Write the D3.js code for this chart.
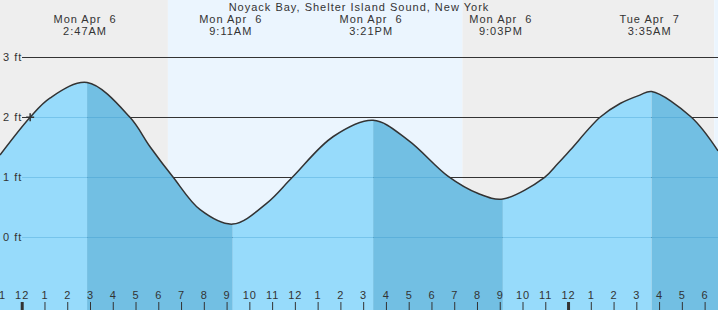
<!DOCTYPE html>
<html><head><meta charset="utf-8">
<script src="https://cdn.jsdelivr.net/npm/d3@7"></script>
<style>
html,body{margin:0;padding:0;background:#fff}
svg{display:block}
text{font-family:"Liberation Sans",Arial,sans-serif;font-size:11px;fill:#333;letter-spacing:1px;white-space:pre}
</style>
</head><body><svg id="c" width="718" height="310"></svg>
<script>
// ---------------- data ----------------
const title = "Noyack Bay, Shelter Island Sound, New York";
const chartStart = "2026-04-05T22:57:30";
const chartEnd = "2026-04-07T06:30:00";

const extremeTimes = ["2026-04-06T02:47:00","2026-04-06T09:11:00","2026-04-06T15:21:00","2026-04-06T21:03:00","2026-04-07T03:35:00"];
const extremeTypes = ["H","L","H","L","H"];
const extremeDayLabels = ["Mon Apr  6","Mon Apr  6","Mon Apr  6","Mon Apr  6","Tue Apr  7"];
const extremeTimeLabels = ["2:47AM","9:11AM","3:21PM","9:03PM","3:35AM"];

const curveTimes = [
  "2026-04-05T22:57:30","2026-04-06T00:17:00","2026-04-06T01:09:00","2026-04-06T02:47:00",
  "2026-04-06T04:40:00","2026-04-06T05:33:00","2026-04-06T06:34:00","2026-04-06T07:45:00",
  "2026-04-06T09:11:00","2026-04-06T10:41:00","2026-04-06T11:48:00","2026-04-06T13:36:00",
  "2026-04-06T15:21:00","2026-04-06T16:53:00","2026-04-06T18:38:00",
  "2026-04-06T19:58:00","2026-04-06T21:03:00","2026-04-06T22:53:00","2026-04-06T23:28:00",
  "2026-04-07T00:00:00","2026-04-07T01:19:00","2026-04-07T02:12:00","2026-04-07T03:04:00",
  "2026-04-07T03:35:00","2026-04-07T05:20:00","2026-04-07T06:30:00"];
const curveLevels = [
  1.37, 2.00, 2.32, 2.58,
  2.00, 1.51, 1.00, 0.46,
  0.22, 0.57, 1.00, 1.68,
  1.95, 1.62, 1.02,
  0.73, 0.64, 1.00, 1.23,
  1.45, 2.00, 2.23, 2.37,
  2.43, 2.00, 1.44];

const nightStarts = ["2026-04-05T22:57:30","2026-04-06T19:16:00"];
const nightEnds   = ["2026-04-06T06:20:00","2026-04-07T06:20:00"];
const dayStarts = ["2026-04-06T06:20:00","2026-04-07T06:20:00"];
const dayEnds   = ["2026-04-06T19:16:00","2026-04-07T06:30:00"];

const yTickValues = [0,1,2,3];
const yTickLabels = ["0 ft","1 ft","2 ft","3 ft"];

const nowTime = "2026-04-06T00:17:00";
const nowLevel = 2.0;

// ---------------- drawing ----------------
const W = 718, H = 310;
const parse = d3.utcParse("%Y-%m-%dT%H:%M:%S");
const svg = d3.select("#c");

const x = d3.scaleUtc().domain([parse(chartStart), parse(chartEnd)]).range([0, W]);
const y = d3.scaleLinear().domain([0, 3]).range([237.3, 57.3]);
const labelShift = -2;

// background: night / day
svg.append("g").selectAll("rect").data(nightStarts.map((s,i)=>[parse(s),parse(nightEnds[i])]))
  .join("rect").attr("x",d=>x(d[0])).attr("width",d=>x(d[1])-x(d[0])).attr("y",0).attr("height",H).attr("fill","#eeeeee");
svg.append("g").selectAll("rect").data(dayStarts.map((s,i)=>[parse(s),parse(dayEnds[i])]))
  .join("rect").attr("x",d=>x(d[0])).attr("width",d=>x(d[1])-x(d[0])).attr("y",0).attr("height",H).attr("fill","#ebf5fe");

// dark grid lines
svg.append("g").selectAll("line").data(yTickValues).join("line")
  .attr("x1",22).attr("x2",W).attr("y1",d=>Math.round(y(d))+0.5).attr("y2",d=>Math.round(y(d))+0.5)
  .attr("stroke","#333").attr("stroke-width",1);

// curve data
const pts = curveTimes.map((t,i)=>({t:parse(t), v:curveLevels[i]}));
const crv = d3.curveCatmullRom.alpha(0.5);
const area = d3.area().x(d=>x(d.t)).y0(H).y1(d=>y(d.v)).curve(crv);
const line = d3.line().x(d=>x(d.t)).y(d=>y(d.v)).curve(crv);

// segments between extremes: rising (light) / falling (dark)
const bounds = [parse(chartStart), ...extremeTimes.map(parse), parse(chartEnd)];
const segs = [];
for (let i=0;i<bounds.length-1;i++){
  const falling = i>0 && extremeTypes[i-1]==="H";
  segs.push({a:bounds[i], b:bounds[i+1], falling});
}
const defs = svg.append("defs");
segs.forEach((s,i)=>{
  defs.append("clipPath").attr("id","seg"+i).append("rect")
    .attr("x",x(s.a)).attr("width",x(s.b)-x(s.a)).attr("y",0).attr("height",H);
});
defs.append("clipPath").attr("id","water").append("path").attr("d",area(pts));

svg.append("g").selectAll("path").data(segs).join("path")
  .attr("d",area(pts)).attr("clip-path",(d,i)=>`url(#seg${i})`)
  .attr("fill",d=>d.falling?"#72bfe3":"#97dbfb");

// grid lines under water
svg.append("g").attr("clip-path","url(#water)").selectAll("line").data(yTickValues).join("line")
  .attr("x1",22).attr("x2",W).attr("y1",d=>Math.round(y(d))+0.5).attr("y2",d=>Math.round(y(d))+0.5)
  .attr("stroke","#2a8fc7").attr("stroke-opacity",0.3).attr("stroke-width",1);

// tide line
svg.append("path").attr("d",line(pts)).attr("fill","none").attr("stroke","#333").attr("stroke-width",1.5);

// y labels
svg.append("g").selectAll("text").data(yTickValues).join("text")
  .attr("x",3).attr("y",d=>y(d)+4).text((d,i)=>yTickLabels[i]);

// current time marker
const cx = x(parse(nowTime)), cy = y(nowLevel);
svg.append("path").attr("d",`M${cx-4},${cy}H${cx+4}M${cx},${cy-4}V${cy+4}`)
  .attr("stroke","#333").attr("stroke-width",1.5).attr("fill","none");

// title
svg.append("text").attr("x",359).attr("y",11).attr("text-anchor","middle").text(title);

// extreme labels
const lab = svg.append("g").attr("transform",`translate(${labelShift},0)`);
extremeTimes.forEach((t,i)=>{
  const xx = x(parse(t));
  lab.append("text").attr("x",xx).attr("y",23).attr("text-anchor","middle").text(extremeDayLabels[i]);
  lab.append("text").attr("x",xx).attr("y",35).attr("text-anchor","middle").text(extremeTimeLabels[i]);
});

// x axis (hour ticks)
const axis = d3.axisBottom(x).ticks(d3.utcHour.every(1)).tickFormat(d3.utcFormat("%-I")).tickSize(8).tickPadding(0);
const gx = svg.append("g").attr("transform",`translate(${labelShift},302)`).call(axis);
gx.select(".domain").remove();
gx.attr("font-size",null).attr("font-family",null);
gx.selectAll(".tick line").attr("stroke","#333").attr("stroke-width",d=>d.getUTCHours()===0?3:1);
gx.selectAll(".tick text").attr("y",-3).attr("dy",null);
</script>
</body></html>
